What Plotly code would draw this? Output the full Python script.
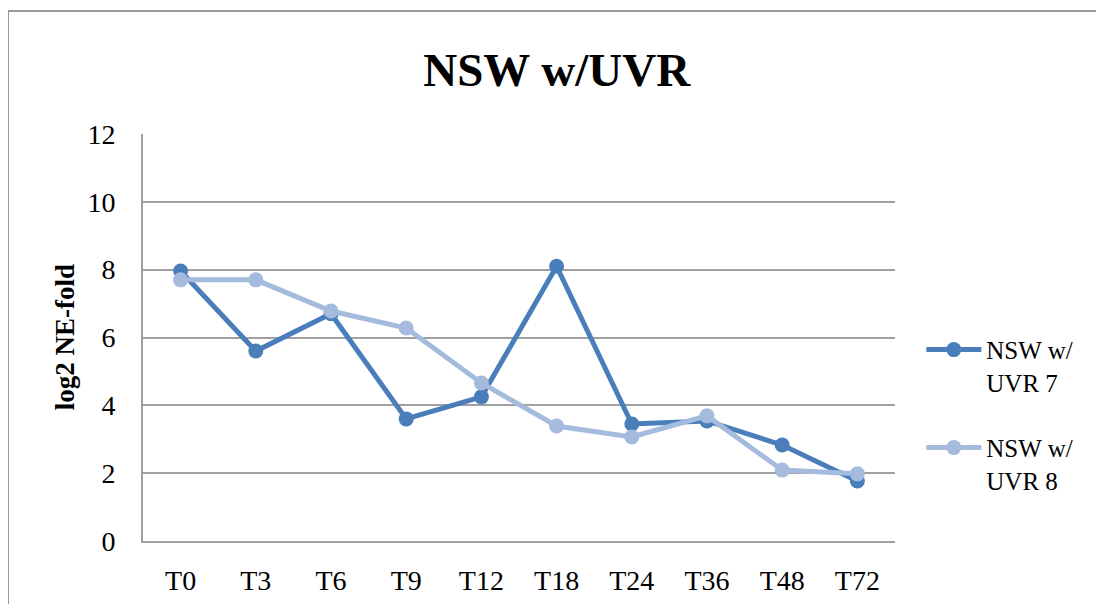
import plotly.graph_objects as go

# time points on the x axis
timepoints = ["T0", "T3", "T6", "T9", "T12", "T18", "T24", "T36", "T48", "T72"]

# log2 NE-fold values
uvr7 = [7.96, 5.60, 6.70, 3.60, 4.25, 8.10, 3.45, 3.54, 2.83, 1.77]
uvr8 = [7.70, 7.70, 6.78, 6.28, 4.66, 3.39, 3.07, 3.69, 2.09, 1.98]

y_ticks = [0, 2, 4, 6, 8, 10, 12]

FONT = "Liberation Serif"
GRID = "#a0a0a0"

fig = go.Figure()

fig.add_trace(go.Scatter(
    x=timepoints, y=uvr7, name="NSW w/<br>UVR 7", legendgroup="a",
    mode="lines+markers",
    line=dict(color="#4a7ebb", width=5),
    marker=dict(color="#4a7ebb", size=15),
))

fig.add_trace(go.Scatter(
    x=timepoints, y=uvr8, name="NSW w/<br>UVR 8", legendgroup="b",
    mode="lines+markers",
    line=dict(color="#a5bbdd", width=5),
    marker=dict(color="#a5bbdd", size=15),
))

fig.update_layout(
    width=1104, height=604,
    # page has an 8px body margin, so shift everything up/left a bit
    margin=dict(l=135, r=217, t=126, b=71),
    paper_bgcolor="white",
    plot_bgcolor="white",
    font=dict(family=FONT, size=28, color="black"),
    title=dict(
        text="<b>NSW w/UVR</b>",
        font=dict(family=FONT, size=47, color="black"),
        x=0.497, xanchor="center",
        y=0.898, yanchor="middle",
    ),
    showlegend=True,
    legend=dict(
        x=1.035, xanchor="left",
        y=0.31, yanchor="middle",
        font=dict(family=FONT, size=25, color="black"),
        valign="top",
        itemwidth=55,
        tracegroupgap=30,
        bgcolor="rgba(0,0,0,0)",
    ),
    shapes=[
        # outer chart border (runs off the right and bottom of the image)
        dict(type="rect", xref="paper", yref="paper",
             x0=-0.1795, x1=1.5, y0=-0.5, y1=1.302,
             line=dict(color="#999999", width=2), layer="below"),
    ],
    annotations=[
        dict(text="<b>log2 NE-fold</b>", xref="paper", yref="paper",
             x=-0.104, y=0.5, xanchor="center", yanchor="middle",
             textangle=-90, showarrow=False,
             font=dict(family=FONT, size=27, color="black")),
    ],
)

fig.update_xaxes(
    type="category",
    range=[-0.5, 9.5],
    showgrid=False,
    showline=True, linecolor=GRID, linewidth=2,
    ticks="", ticklabelstandoff=13,
    tickfont=dict(family=FONT, size=28, color="black"),
)

fig.update_yaxes(
    range=[0, 12],
    tickvals=y_ticks,
    showgrid=True, gridcolor=GRID, gridwidth=2,
    showline=True, linecolor=GRID, linewidth=2,
    zeroline=False,
    ticks="", ticklabelstandoff=20,
    tickfont=dict(family=FONT, size=28, color="black"),
)

fig.write_html("out.html")
